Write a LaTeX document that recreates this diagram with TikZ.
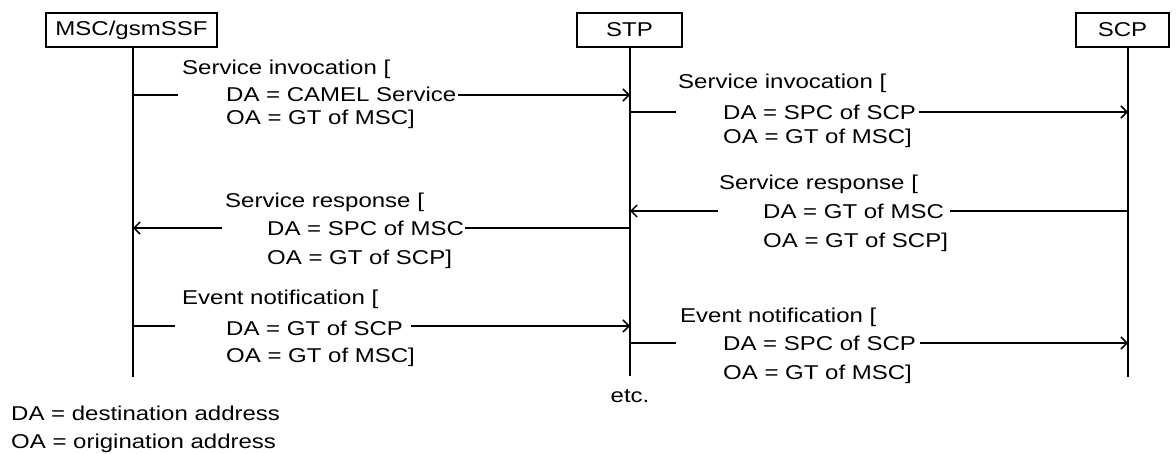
\documentclass[tikz,border=0pt]{standalone}
\usepackage{fontspec}
\setmainfont[FakeStretch=1.2]{Liberation Sans}
\usetikzlibrary{arrows.meta}
\tikzset{
  actor/.style={draw, line width=1.5pt, inner sep=0pt, minimum height=34pt,
                font=\fontsize{20}{24}\selectfont},
  lifeline/.style={line width=1.5pt},
  txt/.style={anchor=base west, inner sep=0pt, font=\fontsize{20}{24}\selectfont},
  seg/.style={line width=1.5pt},
  msg/.style={line width=1.5pt, -{Straight Barb[length=6pt,width=12pt,line width=1.5pt]}}
}
\begin{document}
\begin{tikzpicture}[x=1pt,y=-1pt]
\useasboundingbox (0,0) rectangle (1176,453);

% participants
\node[actor, minimum width=171pt] (msc) at (131.5,30) {MSC/gsmSSF};
\node[actor, minimum width=105pt] (stp) at (629.5,30) {STP};
\node[actor, minimum width=93pt]  (scp) at (1122.5,30) {SCP};

% lifelines
\coordinate (mscT) at (133,47);  \coordinate (mscB) at (133,377);
\coordinate (stpT) at (630,47);  \coordinate (stpB) at (630,376);
\coordinate (scpT) at (1128,47); \coordinate (scpB) at (1128,377);
\draw[lifeline] (mscT) -- (mscB);
\draw[lifeline] (stpT) -- (stpB);
\draw[lifeline] (scpT) -- (scpB);

% 1: service invocation, MSC -> STP
\node[txt] (t1) at (182,74.5) {Service invocation [};
\node[txt] (d1) at (226,101.5) {DA = CAMEL Service};
\node[txt] (o1) at (226,124.5) {OA = GT of MSC]};
\coordinate (m1a) at (133,95); \coordinate (m1b) at (630,95);
\draw[seg, shorten >=4pt] (m1a) -- (m1a -| t1.west);
\draw[msg, shorten <=2pt] (m1b -| d1.east) -- (m1b);

% 2: service invocation, STP -> SCP
\node[txt] (t2) at (678,88.5) {Service invocation [};
\node[txt] (d2) at (723,119) {DA = SPC of SCP};
\node[txt] (o2) at (723,143.5) {OA = GT of MSC]};
\coordinate (m2a) at (630,112); \coordinate (m2b) at (1128,112);
\draw[seg, shorten >=2pt] (m2a) -- (m2a -| t2.west);
\draw[msg, shorten <=3pt] (m2b -| d2.east) -- (m2b);

% 3: service response, STP -> MSC
\node[txt] (t3) at (225,207) {Service response [};
\node[txt] (d3) at (267,235) {DA = SPC of MSC};
\node[txt] (o3) at (267,264) {OA = GT of SCP]};
\coordinate (m3a) at (630,228); \coordinate (m3b) at (133,228);
\draw[seg, shorten >=1pt] (m3a) -- (m3a -| d3.east);
\draw[msg, shorten <=3pt] (m3b -| t3.west) -- (m3b);

% 4: service response, SCP -> STP
\node[txt] (t4) at (719,189) {Service response [};
\node[txt] (d4) at (763,218) {DA = GT of MSC};
\node[txt] (o4) at (763,247) {OA = GT of SCP]};
\coordinate (m4a) at (1128,211); \coordinate (m4b) at (630,211);
\draw[seg, shorten >=6pt] (m4a) -- (m4a -| d4.east);
\draw[msg, shorten <=1pt] (m4b -| t4.west) -- (m4b);

% 5: event notification, MSC -> STP
\node[txt] (t5) at (182,304) {Event notification [};
\node[txt] (d5) at (226,335) {DA = GT of SCP};
\node[txt] (o5) at (226,362) {OA = GT of MSC]};
\coordinate (m5a) at (133,326); \coordinate (m5b) at (630,326);
\draw[seg, shorten >=7pt] (m5a) -- (m5a -| t5.west);
\draw[msg, shorten <=8pt] (m5b -| d5.east) -- (m5b);

% 6: event notification, STP -> SCP
\node[txt] (t6) at (680,322) {Event notification [};
\node[txt] (d6) at (723,350) {DA = SPC of SCP};
\node[txt] (o6) at (723,379) {OA = GT of MSC]};
\coordinate (m6a) at (630,343); \coordinate (m6b) at (1128,343);
\draw[seg, shorten >=4pt] (m6a) -- (m6a -| t6.west);
\draw[msg, shorten <=4pt] (m6b -| d6.east) -- (m6b);

% continuation mark and legend
\node[txt, anchor=base] (etc) at (630,402) {etc.};
\node[txt] (lda) at (11,420) {DA = destination address};
\node[txt] (loa) at (11,448) {OA = origination address};
\end{tikzpicture}
\end{document}
